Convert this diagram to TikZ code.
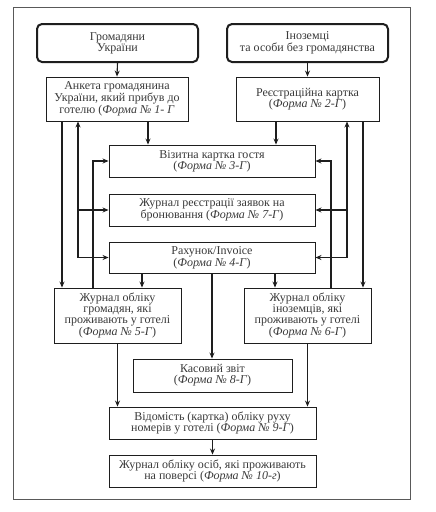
\documentclass[tikz,border=0pt]{standalone}
\usepackage{fontspec}
\setmainfont{Liberation Serif}
\usetikzlibrary{arrows.meta,calc}
\definecolor{txt}{HTML}{3A3A3A}
\definecolor{ln}{HTML}{1E1E1E}
\begin{document}
\begin{tikzpicture}[x=1pt,y=-1pt,
  box/.style={draw=ln, line width=0.9pt, fill=white, align=center, inner sep=1pt,
    text=txt, font=\fontsize{12}{10.9}\selectfont},
  topbox/.style={box, line width=2pt, rounded corners=5pt},
  conn/.style={draw=ln, line width=1.1pt, -{Stealth[length=6pt,width=5pt]}},
  conn2/.style={draw=ln, line width=1.1pt, {Stealth[length=6pt,width=5pt]}-{Stealth[length=6pt,width=5pt]}},
  plain/.style={draw=ln, line width=1.1pt}]
\useasboundingbox (0,0) rectangle (436,512);
\fill[white] (0,0) rectangle (436,512);
\draw[draw=gray!70!black, line width=1pt] (13,7) rectangle (410,499);

\node[topbox, minimum width=161pt, minimum height=38pt] (gu) at (117.5,43) {Громадяни\\України};
\node[topbox, minimum width=161pt, minimum height=38pt] (inz) at (307.5,43) {Іноземці\\та особи без громадянства};
\node[box, minimum width=142pt, minimum height=44pt] (anketa) at (117,99) {Анкета громадянина\\України, який прибув до\\готелю (\textit{Форма № 1- Г}};
\node[box, minimum width=143pt, minimum height=44pt] (reg) at (307.5,99) {Реєстраційна картка\\(\textit{Форма № 2-Г})};
\node[box, minimum width=206pt, minimum height=32pt] (viz) at (212,161) {Візитна картка гостя\\(\textit{Форма № 3-Г})};
\node[box, minimum width=206pt, minimum height=32pt] (zh7) at (212,210) {Журнал реєстрації заявок на\\бронювання (\textit{Форма № 7-Г})};
\node[box, minimum width=206pt, minimum height=31pt] (rah) at (212,257.5) {Рахунок/Invoice\\(\textit{Форма № 4-Г})};
\node[box, minimum width=127pt, minimum height=55pt] (zh5) at (117.5,315.5) {Журнал обліку\\громадян, які\\проживають у готелі\\(\textit{Форма № 5-Г})};
\node[box, minimum width=127pt, minimum height=55pt] (zh6) at (307.5,315.5) {Журнал обліку\\іноземців, які\\проживають у готелі\\(\textit{Форма № 6-Г})};
\node[box, minimum width=159pt, minimum height=33pt] (kas) at (212.5,375.5) {Касовий звіт\\(\textit{Форма № 8-Г})};
\node[box, minimum width=207pt, minimum height=32pt] (vid) at (212.5,423) {Відомість (картка) обліку руху\\номерів у готелі (\textit{Форма № 9-Г})};
\node[box, minimum width=207pt, minimum height=32pt] (zh10) at (212.5,471) {Журнал обліку осіб, які проживають\\на поверсі (\textit{Форма № 10-г})};

\coordinate (x62) at (62,0);
\coordinate (x78) at (78,0);
\coordinate (x93) at (93,0);
\coordinate (x142) at (142,0);
\coordinate (x148) at (148,0);
\coordinate (x275) at (275,0);
\coordinate (x276) at (276,0);
\coordinate (x331) at (331,0);
\coordinate (x347) at (347,0);
\coordinate (x363) at (363,0);

\draw[conn] (gu.south) -- (anketa.north);
\draw[conn] (inz.south) -- (reg.north);
\draw[conn] (anketa.south -| x62) -- (zh5.north -| x62);
\draw[conn2] (anketa.south -| x78) |- (rah.west);
\draw[conn] (x78 |- zh7.west) -- (zh7.west);
\draw[conn] (zh5.north -| x93) |- (viz.west);
\draw[conn] (anketa.south -| x148) -- (viz.north -| x148);
\draw[conn] (reg.south -| x276) -- (viz.north -| x276);
\draw[conn] (zh6.north -| x331) |- (viz.east);
\draw[conn2] (reg.south -| x347) |- (rah.east);
\draw[conn] (x347 |- zh7.east) -- (zh7.east);
\draw[conn] (reg.south -| x363) -- (zh6.north -| x363);
\draw[conn] (rah.south -| x142) -- (zh5.north -| x142);
\draw[conn] (rah.south -| x275) -- (zh6.north -| x275);
\draw[conn] (rah.south) -- (rah.south |- kas.north);
\draw[conn] (zh5.south) -- (zh5.south |- vid.north);
\draw[conn] (zh6.south) -- (zh6.south |- vid.north);
\draw[conn] (vid.south) -- (vid.south |- zh10.north);
\end{tikzpicture}
\end{document}
